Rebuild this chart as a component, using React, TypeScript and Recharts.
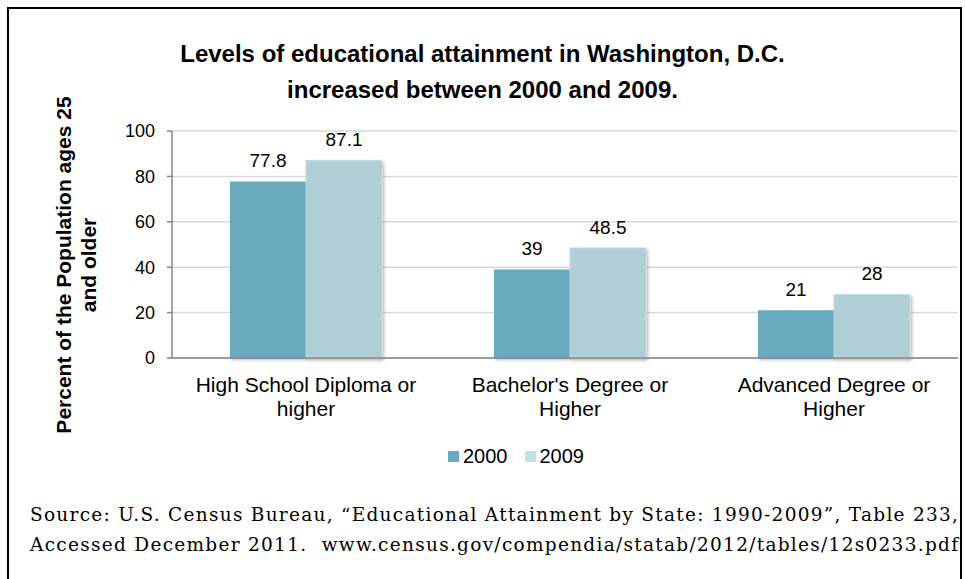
import React from "react";
import { BarChart, Bar, XAxis, YAxis, CartesianGrid, Legend, LabelList } from "recharts";

const categories = ["High School Diploma or higher", "Bachelor's Degree or Higher", "Advanced Degree or Higher"];
const values2000 = [77.8, 39, 21];
const values2009 = [87.1, 48.5, 28];
const yTicks = [0, 20, 40, 60, 80, 100];
const seriesNames = ["2000", "2009"];
const titleLines = ["Levels of educational attainment in Washington, D.C.", "increased between 2000 and 2009."];
const yLabelLines = ["Percent of the Population ages 25", "and older"];
const sourceLines = [
  "Source: U.S. Census Bureau, \u201cEducational Attainment by State: 1990-2009\u201d, Table 233,",
  "Accessed December 2011.  www.census.gov/compendia/statab/2012/tables/12s0233.pdf",
];

const COLORS = ["#68abbf", "#b1cdd6"];
const LEGEND_COLORS = ["#68abbf", "#c3dfe7"];

const data = categories.map((c, i) => ({ name: c, v2000: values2000[i], v2009: values2009[i] }));

const FONT = "'Liberation Sans', Arial, sans-serif";
const SERIF = "'DejaVu Serif', 'Liberation Serif', serif";

function wrap(text: string, max: number): string[] {
  const words = text.split(" ");
  const lines: string[] = [];
  let cur = "";
  for (const w of words) {
    const t = cur ? cur + " " + w : w;
    if (t.length > max && cur) {
      lines.push(cur);
      cur = w;
    } else cur = t;
  }
  if (cur) lines.push(cur);
  return lines;
}

const CatTick = (props: any) => {
  const { x, y, payload } = props;
  const lines = wrap(payload.value, 22);
  return (
    <text x={x} y={y} textAnchor="middle" fontFamily={FONT} fontSize={21} fill="#000">
      {lines.map((l, i) => (
        <tspan key={i} x={x} dy={i === 0 ? 26 : 24}>
          {l}
        </tspan>
      ))}
    </text>
  );
};

const LegendContent = () => (
  <div style={{ display: "flex", justifyContent: "center", alignItems: "center", fontFamily: FONT, fontSize: 20, color: "#000", paddingLeft: 67 }}>
    {seriesNames.map((s, i) => (
      <div key={s} style={{ display: "flex", alignItems: "center", marginRight: i === 0 ? 17 : 0 }}>
        <span style={{ display: "inline-block", width: 11, height: 11, background: LEGEND_COLORS[i], marginRight: 4 }} />
        <span>{s}</span>
      </div>
    ))}
  </div>
);

export default function App() {
  return (
    <div style={{ position: "absolute", left: 0, top: 0, width: 965, height: 579, background: "#fff", overflow: "hidden" }}>
      <div style={{ position: "absolute", left: 7, top: 7, width: 951, height: 590, border: "2px solid #000" }} />
      <div style={{ position: "absolute", left: 0, top: 36, width: 965, textAlign: "center", fontFamily: FONT, fontWeight: "bold", fontSize: 24, lineHeight: "36px", color: "#000" }}>
        {titleLines.map((l) => (
          <div key={l}>{l}</div>
        ))}
      </div>
      <div style={{ position: "absolute", left: 0, top: 0 }}>
        <BarChart width={965} height={579} data={data} margin={{ top: 131, right: 7, left: 112, bottom: 161 }} barCategoryGap={56} barGap={0}>
          <defs>
            <filter id="barShadow" x="-10%" y="-10%" width="130%" height="130%">
              <feDropShadow dx="1.5" dy="2" stdDeviation="1.8" floodColor="#000" floodOpacity="0.28" />
            </filter>
          </defs>
          <CartesianGrid vertical={false} stroke="#d9d9d9" strokeWidth={1.5} />
          <XAxis dataKey="name" tick={<CatTick />} tickLine={false} axisLine={{ stroke: "#868686", strokeWidth: 1.5 }} height={60} interval={0} padding={{ left: 2, right: -8 }} />
          <YAxis
            domain={[0, 100]}
            ticks={yTicks}
            width={60}
            tickSize={5}
            tickMargin={12}
            tick={{ fontFamily: FONT, fontSize: 18, fill: "#000" }}
            axisLine={{ stroke: "#868686", strokeWidth: 1.5 }}
            tickLine={{ stroke: "#868686", strokeWidth: 1.5 }}
            label={(p: any) => (
              <text transform="translate(64,265) rotate(-90)" textAnchor="middle" fontFamily={FONT} fontWeight="bold" fontSize={21} fill="#000">
                {yLabelLines.map((l, i) => (
                  <tspan key={i} x={0} dy={i === 0 ? 7 : 25}>
                    {l}
                  </tspan>
                ))}
              </text>
            )}
          />
          <Legend layout="horizontal" verticalAlign="middle" align="center" content={<LegendContent />} wrapperStyle={{ top: 445, left: 0, width: 965 }} />
          <Bar dataKey="v2000" name={seriesNames[0]} fill={COLORS[0]} filter="url(#barShadow)" isAnimationActive={false}>
            <LabelList dataKey="v2000" position="top" offset={14} style={{ fontFamily: FONT, fontSize: 19, fill: "#000" }} />
          </Bar>
          <Bar dataKey="v2009" name={seriesNames[1]} fill={COLORS[1]} stroke="#c6dde4" strokeWidth={1} filter="url(#barShadow)" isAnimationActive={false}>
            <LabelList dataKey="v2009" position="top" offset={14} style={{ fontFamily: FONT, fontSize: 19, fill: "#000" }} />
          </Bar>
        </BarChart>
      </div>
      <svg style={{ position: "absolute", left: 0, top: 0 }} width={965} height={579}>
        {sourceLines.map((l, i) => (
          <text key={l} x={30} y={521 + i * 29.5} textLength={928} lengthAdjust="spacing" fontFamily={SERIF} fontSize={18.5} fill="#000" style={{ whiteSpace: "pre" }}>
            {l}
          </text>
        ))}
      </svg>
    </div>
  );
}
